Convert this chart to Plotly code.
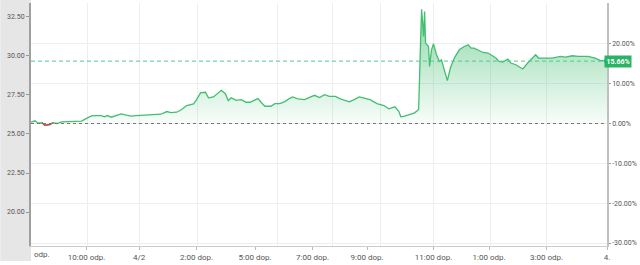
import plotly.graph_objects as go

# ---- data ----
# t: session index along the (non-linear, gap-skipping) time axis; pct: % change vs. reference price
t = [0, 4, 7, 11, 14, 19, 22, 26, 31, 37, 46, 51, 57, 61, 66, 71, 74, 77, 81, 86, 91, 96, 101, 106,
     112, 122, 131, 137, 141, 147, 152, 157, 164, 167, 171, 176, 179, 184, 187, 192, 196, 199, 202,
     207, 212, 217, 221, 226, 229, 232, 236, 242, 246, 251, 256, 261, 264, 269, 276, 281, 286, 291,
     296, 301, 307, 312, 321, 326, 331, 337, 342, 349, 356, 361, 367, 371, 373, 377, 382, 387, 391,
     392, 393, 394, 396, 397, 398, 401, 402, 404, 406, 409, 412, 414, 417, 420, 423, 427, 432, 437,
     441, 444, 447, 451, 456, 461, 464, 469, 472, 476, 481, 484, 489, 494, 496, 501, 506, 509, 512,
     519, 526, 534, 539, 546, 552, 562, 569, 574, 581]
pct = [0.33, 0.68, 0.08, 0.18, -0.43, -0.25, 0.18, 0.0, 0.43, 0.5, 0.58, 0.58, 1.43, 1.93, 2.0, 2.0,
       1.68, 2.0, 1.58, 2.0, 2.43, 2.08, 1.83, 2.0, 2.08, 2.18, 2.33, 3.0, 2.75, 2.83, 3.5, 4.5, 4.93,
       6.0, 7.68, 7.83, 6.43, 6.68, 7.25, 8.33, 7.5, 5.75, 6.43, 5.83, 6.0, 5.33, 5.33, 6.0, 6.25,
       5.33, 4.33, 4.33, 5.0, 5.0, 5.5, 6.33, 6.68, 6.18, 6.0, 6.58, 7.08, 6.5, 7.25, 6.83, 6.83,
       6.18, 5.43, 6.0, 6.68, 6.33, 6.0, 5.0, 4.5, 3.68, 4.18, 3.08, 1.68, 1.83, 2.25, 2.68, 3.5,
       10.18, 21.0, 28.68, 21.83, 28.08, 20.18, 19.33, 14.33, 18.5, 20.0, 17.25, 15.58, 16.0, 13.5,
       10.75, 13.93, 16.43, 18.5, 19.33, 19.75, 18.93, 18.93, 18.5, 17.83, 17.68, 17.25, 16.43,
       15.58, 15.43, 16.18, 15.18, 14.75, 13.93, 13.68, 15.18, 16.43, 17.25, 16.43, 16.43, 16.43,
       16.83, 16.68, 17.0, 16.83, 16.83, 16.43, 15.83, 15.66]
last_pct = 15.66

label_ticks = [56, 109, 167, 226, 284, 339, 406, 462, 520, 581]
label_text = ["10:00 odp.", "4/2", "2:00 dop.", "5:00 dop.", "7:00 dop.", "9:00 dop.",
              "11:00 dop.", "1:00 odp.", "3:00 odp.", "4."]
grid_ticks = [57, 109, 168, 249, 304, 353, 406, 463, 520]

price_ticks = [20.0, 22.5, 25.0, 27.5, 30.0, 32.5]
pct_ticks = [-30, -20, -10, 0, 10, 20]
pct_text = ["-30.00%", "-20.00%", "-10.00%", "0.00%", "10.00%", "20.00%"]

price_range = [17.825, 33.386]
pct_range = [-30.75, 30.25]
x_range = [t[0], t[-1]]

GREEN = "rgb(66,190,112)"
FONT = "Roboto"

# red segment for values below the reference price
red_y = []
for i, v in enumerate(pct):
    neigh = [pct[j] for j in (i - 1, i, i + 1) if 0 <= j < len(pct)]
    red_y.append(v if (v < 0 or (min(neigh) < 0 and v <= 0.2)) else None)

fig = go.Figure()

# invisible trace so the left (price) axis is drawn
fig.add_trace(go.Scatter(
    x=x_range, y=price_range, yaxis="y", mode="lines",
    line=dict(color="rgba(0,0,0,0)", width=0),
    hoverinfo="skip", showlegend=False))

fig.add_trace(go.Scatter(
    x=t, y=pct, yaxis="y2", mode="lines",
    line=dict(color=GREEN, width=1.3),
    fill="tozeroy",
    fillgradient=dict(type="vertical", start=0, stop=29,
                      colorscale=[[0, "rgba(66,190,112,0.03)"], [1, "rgba(66,190,112,0.62)"]]),
    hoverinfo="skip", showlegend=False))

fig.add_trace(go.Scatter(
    x=t, y=red_y, yaxis="y2", mode="lines",
    line=dict(color="rgb(215,70,70)", width=1.3),
    connectgaps=False, hoverinfo="skip", showlegend=False))

fig.add_trace(go.Scatter(
    x=[t[-1]], y=[last_pct], yaxis="y2", mode="markers",
    marker=dict(color="rgb(38,185,160)", size=6),
    hoverinfo="skip", showlegend=False, cliponaxis=False))

# reference lines
fig.add_shape(type="line", xref="x", yref="y2", x0=x_range[0], x1=x_range[1], y0=0, y1=0,
              line=dict(color="#777777", width=1, dash="dot"), layer="above")
fig.add_shape(type="line", xref="x", yref="y2", x0=x_range[0], x1=x_range[1],
              y0=last_pct, y1=last_pct,
              line=dict(color="rgb(80,200,150)", width=1, dash="4px,3px"), layer="above")

# grey left panel behind the price labels
fig.add_shape(type="rect", xref="paper", yref="paper", x0=-31 / 581, x1=0, y0=-15 / 244, y1=1.02,
              fillcolor="#e6e6e6", line=dict(width=0), layer="below")

fig.add_annotation(xref="paper", yref="y2", x=1, y=last_pct, xanchor="left", xshift=-3,
                   text="<b>%.2f%%</b>" % last_pct, showarrow=False,
                   font=dict(family=FONT, size=7, color="white"),
                   bgcolor="rgb(40,180,100)", borderpad=1.5)
fig.add_annotation(xref="paper", yref="paper", x=0, y=-9 / 244, xanchor="left", yanchor="middle",
                   xshift=1, text="odp.", showarrow=False,
                   font=dict(family=FONT, size=8, color="#555555"))

fig.update_layout(
    width=640, height=265,
    margin=dict(l=31, r=28, t=3, b=18),
    paper_bgcolor="white", plot_bgcolor="white",
    font=dict(family=FONT, size=8, color="#555555"),
    xaxis=dict(range=x_range, tickmode="array", tickvals=label_ticks, ticktext=label_text,
               showgrid=False, zeroline=False,
               ticks="outside", ticklen=3, tickcolor="#bbbbbb",
               showline=True, linecolor="#cccccc", linewidth=1,
               tickfont=dict(family=FONT, size=8, color="#555555"),
               minor=dict(tickmode="array", tickvals=grid_ticks, showgrid=True,
                          gridcolor="#eeeeee", gridwidth=1, ticks="")),
    yaxis=dict(range=price_range, side="left", tickmode="array", tickvals=price_ticks,
               tickformat=".2f", showgrid=False, zeroline=False,
               ticks="outside", ticklen=3, tickcolor="#999999",
               showline=True, linecolor="#a0a0a0", linewidth=2,
               tickfont=dict(family=FONT, size=7, color="#555555")),
    yaxis2=dict(range=pct_range, side="right", overlaying="y", tickmode="array",
                tickvals=pct_ticks, ticktext=pct_text, showgrid=True, gridcolor="#eeeeee",
                zeroline=False, ticks="outside", ticklen=2, tickcolor="#999999",
                showline=True, linecolor="#c0c0c0", linewidth=1.5,
                tickfont=dict(family=FONT, size=7, color="#555555")),
)

fig.write_html("out.html")
